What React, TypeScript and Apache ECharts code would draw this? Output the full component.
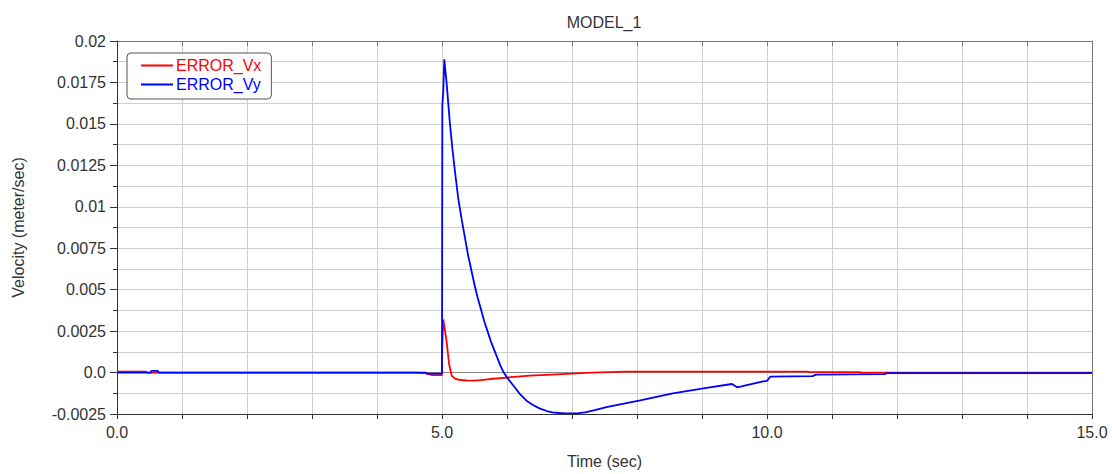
import React, { useEffect, useRef } from "react";
import * as echarts from "echarts";

const FONT = "'Liberation Sans', Arial, sans-serif";

const titleText = "MODEL_1";
const xAxisName = "Time (sec)";
const yAxisName = "Velocity (meter/sec)";
const seriesNames = ["ERROR_Vx", "ERROR_Vy"];
const seriesColors = ["#ff0000", "#0000ff"];

const xTickLabels = ["0.0", "5.0", "10.0", "15.0"];
const yTickLabels = ["-0.0025", "0.0", "0.0025", "0.005", "0.0075", "0.01", "0.0125", "0.015", "0.0175", "0.02"];

// ERROR_Vx (red)
const vxTime = [0, 0.45, 0.46, 4.6, 4.75, 4.85, 5.0, 5.003, 5.02, 5.07, 5.11, 5.15, 5.2, 5.28, 5.38, 5.48, 5.6, 5.74, 6.0, 6.35, 6.7, 7.0, 7.3, 7.84, 10.63, 10.65, 11.43, 11.45, 15];
const vxValue = [0.00005, 0.00005, 0, 0, -0.00003, -0.00015, -0.00015, 0.0015, 0.0032, 0.0019, 0.0005, -0.0002, -0.00036, -0.00045, -0.00048, -0.00049, -0.00046, -0.00039, -0.0003, -0.00018, -0.00012, -0.00007, 0, 0.00006, 0.00006, 0.00003, 0.00003, 0, 0];

// ERROR_Vy (blue)
const vyTime = [0, 0.52, 0.53, 0.63, 0.64, 4.75, 4.76, 5.0, 5.005, 5.02, 5.035, 5.07, 5.12, 5.16, 5.2, 5.25, 5.3, 5.35, 5.4, 5.45, 5.5, 5.55, 5.6, 5.65, 5.7, 5.75, 5.8, 5.85, 5.9, 5.95, 6.0, 6.1, 6.2, 6.3, 6.4, 6.5, 6.61, 6.7, 6.8, 6.9, 7.0, 7.1, 7.2, 7.35, 7.53, 8.05, 8.55, 9.07, 9.46, 9.54, 9.94, 10.0, 10.05, 10.7, 10.76, 11.8, 11.85, 15];
const vyValue = [0, 0, 0.0001, 0.0001, 0, 0, -0.00006, -0.00006, 0.0161, 0.017, 0.0189, 0.0175, 0.0151, 0.0135, 0.0121, 0.0105, 0.0093, 0.0082, 0.0071, 0.0062, 0.0053, 0.0045, 0.0038, 0.0031, 0.0025, 0.0019, 0.0014, 0.0009, 0.0004, 0, -0.0003, -0.0008, -0.0013, -0.0017, -0.00196, -0.00216, -0.00232, -0.0024, -0.00244, -0.00246, -0.00247, -0.00245, -0.0024, -0.00226, -0.00208, -0.00168, -0.00125, -0.00093, -0.00069, -0.00089, -0.00053, -0.0005, -0.00025, -0.00022, -0.00013, -0.0001, -0.00004, -0.00004];

const X_MIN = 0, X_MAX = 15, X_INT = 5, X_GRID = 1;
const Y_MIN = -0.0025, Y_MAX = 0.02, Y_INT = 0.0025, Y_GRID = 0.00125;

export default function App() {
  const ref = useRef<HTMLDivElement>(null);
  useEffect(() => {
    if (!ref.current) return;
    const chart = echarts.init(ref.current, null, { renderer: "svg" });
    const gridColor = "#cfcfcf";
    const axisColor = "#333";
    const frameColor = "#777";
    const labelColor = "#333";
    const pairs = (t: number[], v: number[]) => t.map((x, i) => [x, v[i]]);
    chart.setOption({
      animation: false,
      backgroundColor: "#ffffff",
      textStyle: { fontFamily: FONT },
      title: {
        text: titleText,
        left: 604,
        textAlign: "center",
        top: 14,
        padding: 0,
        textStyle: { fontFamily: FONT, fontSize: 16, fontWeight: "normal", color: "#333" },
      },
      legend: {
        orient: "vertical",
        left: 127,
        top: 53,
        padding: [3, 10, 5, 14],
        itemGap: 0,
        itemWidth: 32,
        itemHeight: 2,
        icon: "rect",
        borderColor: "#555",
        borderWidth: 1,
        borderRadius: 4,
        backgroundColor: "#fff",
        textStyle: { fontFamily: FONT, fontSize: 16, lineHeight: 19, padding: [0, 0, 0, -2] },
        data: seriesNames.map((n, i) => ({ name: n, textStyle: { color: seriesColors[i] } })),
      },
      grid: { left: 117, right: 20, top: 41, bottom: 57, containLabel: false },
      xAxis: [
        {
          type: "value",
          min: X_MIN,
          max: X_MAX,
          interval: X_INT,
          name: xAxisName,
          nameLocation: "middle",
          nameGap: 39,
          nameTextStyle: { fontFamily: FONT, fontSize: 16, color: labelColor },
          axisLine: { show: true, onZero: false, lineStyle: { color: axisColor, width: 1 } },
          axisTick: { show: true, length: 5, lineStyle: { color: axisColor } },
          minorTick: { show: true, splitNumber: 5, length: 5, lineStyle: { color: axisColor } },
          axisLabel: {
            fontFamily: FONT,
            fontSize: 16,
            color: labelColor,
            margin: 10,
            formatter: (v: number) => xTickLabels[Math.round((v - X_MIN) / X_INT)] ?? "",
          },
          splitLine: { show: false },
          z: 5,
        },
        {
          type: "value",
          position: "top",
          min: X_MIN,
          max: X_MAX,
          interval: X_GRID,
          axisLine: { show: true, onZero: false, lineStyle: { color: frameColor, width: 1 } },
          axisTick: { show: true, inside: true, length: 5, lineStyle: { color: frameColor } },
          axisLabel: { show: false },
          splitLine: { show: true, lineStyle: { color: gridColor, width: 1 } },
        },
      ],
      yAxis: [
        {
          type: "value",
          min: Y_MIN,
          max: Y_MAX,
          interval: Y_INT,
          name: yAxisName,
          nameLocation: "middle",
          nameGap: 91,
          nameRotate: 90,
          nameTextStyle: { fontFamily: FONT, fontSize: 16, color: labelColor },
          axisLine: { show: true, onZero: false, lineStyle: { color: axisColor, width: 1 } },
          axisTick: { show: true, length: 7, lineStyle: { color: axisColor } },
          minorTick: { show: true, splitNumber: 2, length: 4, lineStyle: { color: axisColor } },
          axisLabel: {
            fontFamily: FONT,
            fontSize: 16,
            color: labelColor,
            margin: 11,
            formatter: (v: number) => yTickLabels[Math.round((v - Y_MIN) / Y_INT)] ?? "",
          },
          splitLine: { show: false },
          z: 5,
        },
        {
          type: "value",
          position: "right",
          min: Y_MIN,
          max: Y_MAX,
          interval: Y_GRID,
          axisLine: { show: true, onZero: false, lineStyle: { color: frameColor, width: 1 } },
          axisTick: { show: false },
          axisLabel: { show: false },
          splitLine: { show: true, lineStyle: { color: gridColor, width: 1 } },
        },
      ],
      series: [
        {
          type: "line",
          name: "__zero",
          data: [],
          z: 1,
          silent: true,
          markLine: {
            z: 1,
            silent: true,
            symbol: "none",
            label: { show: false },
            lineStyle: { color: "#8a8a8a", width: 1, type: "solid" },
            data: [{ yAxis: 0 }],
          },
        },
        {
          type: "line",
          name: seriesNames[0],
          data: pairs(vxTime, vxValue),
          showSymbol: false,
          symbol: "none",
          z: 3,
          lineStyle: { color: seriesColors[0], width: 1.8 },
          itemStyle: { color: seriesColors[0] },
        },
        {
          type: "line",
          name: seriesNames[1],
          data: pairs(vyTime, vyValue),
          showSymbol: false,
          symbol: "none",
          z: 4,
          lineStyle: { color: seriesColors[1], width: 1.8 },
          itemStyle: { color: seriesColors[1] },
        },
      ],
    });
    return () => chart.dispose();
  }, []);
  return (
    <div
      ref={ref}
      style={{ position: "absolute", left: 0, top: 0, width: 1112, height: 474 }}
    />
  );
}
